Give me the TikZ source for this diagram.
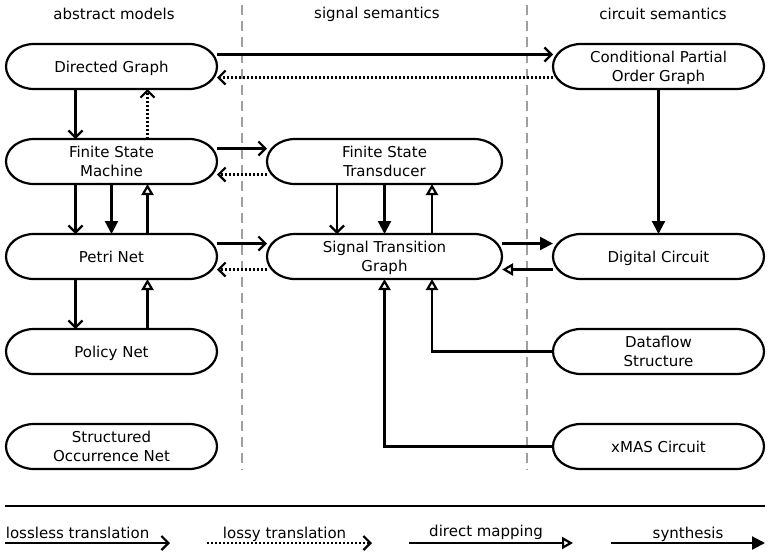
\documentclass[tikz,border=0pt]{standalone}
\usepackage{fontspec}
\setmainfont{DejaVu Sans}
\usepackage{tikz}
\usetikzlibrary{arrows.meta}

\begin{document}
\begin{tikzpicture}[x=1pt, y=-1pt,
  model/.style={rectangle, minimum width=211pt, minimum height=45pt,
    inner sep=0pt, outer sep=0pt, align=center, text depth=0pt,
    font=\fontsize{15pt}{19pt}\selectfont},
  wide/.style={model, minimum width=235pt},
  outline/.style={line width=2.2pt},
  heading/.style={font=\fontsize{15pt}{19pt}\selectfont},
  lossless/.style={line width=2.2pt, -{Straight Barb[length=7pt, width=14pt]}},
  lossy/.style={line width=2.2pt, dash pattern=on 2pt off 2pt,
    -{Straight Barb[length=7pt, width=14pt]}},
  direct/.style={line width=2.2pt, -{Triangle[open, length=11pt, width=12pt]}},
  synth/.style={line width=2.2pt, -{Triangle[length=13pt, width=13pt]}},
  legend/.style={anchor=base, yshift=5pt, font=\fontsize{15pt}{19pt}\selectfont}
  ]
  \useasboundingbox (0,0) rectangle (771,555);

  % column separators
  \foreach \x in {242,527} {
    \draw[gray!75, line width=2pt, dash pattern=on 10pt off 6pt] (\x,5) -- (\x,470);
  }

  % column headings
  \node[heading] (habs) at (114,14) {abstract models};
  \node[heading] (hsig) at (377,14) {signal semantics};
  \node[heading] (hcir) at (663,14) {circuit semantics};

  % abstract models
  \node[model] (dg) at (111.5,66.5) {Directed Graph};
  \node[model] (fsm) at (111.5,161.5) {Finite State\\Machine};
  \node[model] (pn) at (111.5,256.5) {Petri Net};
  \node[model] (policy) at (111.5,351.5) {Policy Net};
  \node[model] (occ) at (111.5,446.5) {Structured\\Occurrence Net};

  % signal semantics
  \node[wide] (fst) at (384.5,161.5) {Finite State\\Transducer};
  \node[wide] (stg) at (384.5,256.5) {Signal Transition\\Graph};

  % circuit semantics
  \node[model] (cpog) at (658.5,66.5) {Conditional Partial\\Order Graph};
  \node[model] (dc) at (658.5,256.5) {Digital Circuit};
  \node[model] (dfs) at (658.5,351.5) {Dataflow\\Structure};
  \node[model] (xmas) at (658.5,446.5) {xMAS Circuit};

  % outlines with elliptic ends
  \foreach \n in {dg,fsm,pn,policy,occ,fst,stg,cpog,dc,dfs,xmas} {
    \draw[outline] ([xshift=28pt]\n.north west) -- ([xshift=-28pt]\n.north east)
      arc[start angle=90, end angle=-90, x radius=28pt, y radius=22.5pt]
      -- ([xshift=28pt]\n.south west)
      arc[start angle=270, end angle=90, x radius=28pt, y radius=22.5pt] -- cycle;
  }

  % horizontal translations
  \draw[lossless] ([yshift=12pt]dg.east) -- ([yshift=12pt]cpog.west);
  \draw[lossy] ([yshift=-11pt]cpog.west) -- ([yshift=-11pt]dg.east);
  \draw[lossless] ([yshift=13pt]fsm.east) -- ([yshift=13pt]fst.west);
  \draw[lossy] ([yshift=-13pt]fst.west) -- ([yshift=-13pt]fsm.east);
  \draw[lossless] ([yshift=13pt]pn.east) -- ([yshift=13pt]stg.west);
  \draw[lossy] ([yshift=-13pt]stg.west) -- ([yshift=-13pt]pn.east);
  \draw[synth] ([yshift=13pt]stg.east) -- ([yshift=13pt]dc.west);
  \draw[direct] ([yshift=-13pt]dc.west) -- ([yshift=-13pt]stg.east);

  % vertical translations
  \draw[lossless] ([xshift=-36pt]dg.south) -- ([xshift=-36pt]fsm.north);
  \draw[lossy] ([xshift=36pt]fsm.north) -- ([xshift=36pt]dg.south);
  \draw[lossless] ([xshift=-36pt]fsm.south) -- ([xshift=-36pt]pn.north);
  \draw[synth] (fsm.south) -- (pn.north);
  \draw[direct] ([xshift=36pt]pn.north) -- ([xshift=36pt]fsm.south);
  \draw[lossless] ([xshift=-36pt]pn.south) -- ([xshift=-36pt]policy.north);
  \draw[direct] ([xshift=36pt]policy.north) -- ([xshift=36pt]pn.south);
  \draw[lossless] ([xshift=-47.5pt]fst.south) -- ([xshift=-47.5pt]stg.north);
  \draw[synth] (fst.south) -- (stg.north);
  \draw[direct] ([xshift=47.5pt]stg.north) -- ([xshift=47.5pt]fst.south);
  \draw[synth] (cpog.south) -- (dc.north);
  \draw[direct] (dfs.west) -| ([xshift=47.5pt]stg.south);
  \draw[direct] (xmas.west) -| (stg.south);

  % legend
  \draw[line width=2.2pt] (5,506) -- (765,506);
  \coordinate (la) at (5,543);
  \coordinate (lb) at (170,543);
  \coordinate (lc) at (207,543);
  \coordinate (ld) at (372,543);
  \coordinate (le) at (409,543);
  \coordinate (lf) at (573,543);
  \coordinate (lg) at (611,543);
  \coordinate (lh) at (765,543);
  \draw[lossless] (la) -- (lb) node[legend, pos=0.44] {lossless translation};
  \draw[lossy] (lc) -- (ld) node[legend, pos=0.47] {lossy translation};
  \draw[direct] (le) -- (lf) node[legend, pos=0.47, yshift=2pt] {direct mapping};
  \draw[synth] (lg) -- (lh) node[legend, pos=0.5] {synthesis};
\end{tikzpicture}
\end{document}
